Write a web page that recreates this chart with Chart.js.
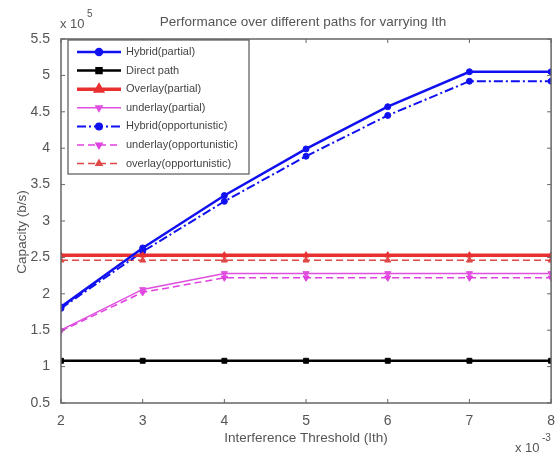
<!DOCTYPE html>
<html>
<head>
<meta charset="utf-8">
<script src="https://cdn.jsdelivr.net/npm/chart.js@4.4.0/dist/chart.umd.min.js"></script>
<style>
  html, body { margin: 0; padding: 0; background: #fff; }
  #wrap { width: 557px; height: 455px; position: relative; }
</style>
</head>
<body>
<div id="wrap"><canvas id="capChart"></canvas></div>
<script>
// Interference threshold Ith (x 10^-3)
const ith = [2, 3, 4, 5, 6, 7, 8];
// capacity values in units of 10^5 b/s
const hybridPartial = [1.82, 2.63, 3.35, 3.99, 4.57, 5.05, 5.05];
const directPath = [1.08, 1.08, 1.08, 1.08, 1.08, 1.08, 1.08];
const overlayPartial = [2.53, 2.53, 2.53, 2.53, 2.53, 2.53, 2.53];
const underlayPartial = [1.50, 2.06, 2.28, 2.28, 2.28, 2.28, 2.28];
const hybridOpp = [1.80, 2.58, 3.27, 3.89, 4.45, 4.92, 4.92];
const underlayOpp = [1.49, 2.02, 2.22, 2.22, 2.22, 2.22, 2.22];
const overlayOpp = [2.46, 2.46, 2.46, 2.46, 2.46, 2.46, 2.46];

const names = ['Hybrid(partial)', 'Direct path', 'Overlay(partial)', 'underlay(partial)',
  'Hybrid(opportunistic)', 'underlay(opportunistic)', 'overlay(opportunistic)'];

const gray = '#555';
const fontFam = '"Liberation Sans", Arial, sans-serif';

const pts = arr => arr.map((v, i) => ({ x: ith[i], y: v }));

const mk = (label, data, color, width, dash, pStyle, radius, rot) => ({
  label: label,
  data: pts(data),
  borderColor: color,
  backgroundColor: color,
  borderWidth: width,
  borderDash: dash,
  pointStyle: pStyle,
  pointRadius: radius,
  pointRotation: rot || 0,
  pointBorderWidth: 1,
  pointBackgroundColor: color,
  pointBorderColor: color,
  tension: 0,
  fill: false
});

const datasets = [
  mk(names[0], hybridPartial, '#1010f0', 2.5, [], 'circle', 3),
  mk(names[1], directPath, '#000', 2.5, [], 'rect', 3.5),
  mk(names[2], overlayPartial, '#e83030', 3.5, [], 'triangle', 3.5),
  mk(names[3], underlayPartial, '#e050e0', 1.5, [], 'triangle', 3.5, 180),
  mk(names[4], hybridOpp, '#1010f0', 2, [9, 3, 2, 3], 'circle', 3),
  mk(names[5], underlayOpp, '#e040e0', 1.5, [7, 4], 'triangle', 3.5, 180),
  mk(names[6], overlayOpp, '#e04848', 1.5, [7, 4], 'triangle', 3.5)
];

// box, inward ticks, texts and legend like the matlab figure
const matlabLook = {
  id: 'matlabLook',
  afterDraw(chart) {
    const ctx = chart.ctx;
    const a = chart.chartArea;
    const xs = chart.scales.x, ys = chart.scales.y;
    ctx.save();
    ctx.strokeStyle = '#666';
    ctx.lineWidth = 1.5;
    ctx.strokeRect(a.left, a.top, a.right - a.left, a.bottom - a.top);
    ctx.lineWidth = 1;
    xs.ticks.forEach(t => {
      const px = xs.getPixelForValue(t.value);
      ctx.beginPath();
      ctx.moveTo(px, a.bottom); ctx.lineTo(px, a.bottom - 4);
      ctx.moveTo(px, a.top); ctx.lineTo(px, a.top + 4);
      ctx.stroke();
    });
    ys.ticks.forEach(t => {
      const py = ys.getPixelForValue(t.value);
      ctx.beginPath();
      ctx.moveTo(a.left, py); ctx.lineTo(a.left + 4, py);
      ctx.moveTo(a.right, py); ctx.lineTo(a.right - 4, py);
      ctx.stroke();
    });

    ctx.fillStyle = gray;
    ctx.textBaseline = 'alphabetic';
    ctx.textAlign = 'center';
    ctx.font = '13.5px ' + fontFam;
    ctx.fillText('Performance over different paths for varrying Ith', 303, 26);
    ctx.font = '13.5px ' + fontFam;
    ctx.fillText('Interference Threshold (Ith)', 306, 442);
    ctx.save();
    ctx.translate(26, 232);
    ctx.rotate(-Math.PI / 2);
    ctx.fillText('Capacity (b/s)', 0, 0);
    ctx.restore();
    // exponent labels
    ctx.textAlign = 'left';
    ctx.font = '13px ' + fontFam;
    ctx.fillText('x 10', 60, 28);
    ctx.font = '10px ' + fontFam;
    ctx.fillText('5', 87, 17);
    ctx.font = '13px ' + fontFam;
    ctx.fillText('x 10', 515, 452);
    ctx.font = '10px ' + fontFam;
    ctx.fillText('-3', 542, 441);

    // legend
    const lx = a.left + 7, ly = a.top + 1, lw = 181, lh = 134;
    ctx.fillStyle = '#fff';
    ctx.fillRect(lx, ly, lw, lh);
    ctx.strokeStyle = '#555';
    ctx.lineWidth = 1.2;
    ctx.strokeRect(lx, ly, lw, lh);
    chart.data.datasets.forEach((ds, i) => {
      const y = ly + 12 + i * 18.6;
      ctx.save();
      ctx.strokeStyle = ds.borderColor;
      ctx.lineWidth = ds.borderWidth;
      ctx.setLineDash(ds.borderDash);
      ctx.beginPath();
      ctx.moveTo(lx + 9, y); ctx.lineTo(lx + 53, y);
      ctx.stroke();
      ctx.setLineDash([]);
      ctx.fillStyle = ds.pointBackgroundColor;
      Chart.helpers.drawPoint(ctx, {
        pointStyle: ds.pointStyle, radius: ds.pointRadius, rotation: ds.pointRotation, borderWidth: 1
      }, lx + 31, y);
      ctx.restore();
      ctx.fillStyle = '#444';
      ctx.font = '11px ' + fontFam;
      ctx.textBaseline = 'middle';
      ctx.fillText(ds.label, lx + 58, y);
    });
    ctx.restore();
  }
};

const ctx = document.getElementById('capChart').getContext('2d');
new Chart(ctx, {
  type: 'line',
  data: { datasets: datasets },
  options: {
    responsive: true,
    maintainAspectRatio: false,
    animation: false,
    layout: { padding: { top: 39, right: 4, left: 0, bottom: 0 } },
    plugins: { legend: { display: false }, tooltip: { enabled: false } },
    scales: {
      x: {
        type: 'linear',
        min: 2, max: 8,
        grid: { display: false },
        border: { display: false },
        ticks: { stepSize: 1, color: gray, font: { family: fontFam, size: 14 }, padding: 2 },
        afterFit: s => { s.height = 52; }
      },
      y: {
        min: 0.5, max: 5.5,
        grid: { display: false },
        border: { display: false },
        ticks: {
          stepSize: 0.5, color: gray, font: { family: fontFam, size: 14 }, padding: 3,
          callback: v => String(v)
        },
        afterFit: s => { s.width = 61; }
      }
    }
  },
  plugins: [matlabLook]
});
</script>
</body>
</html>
